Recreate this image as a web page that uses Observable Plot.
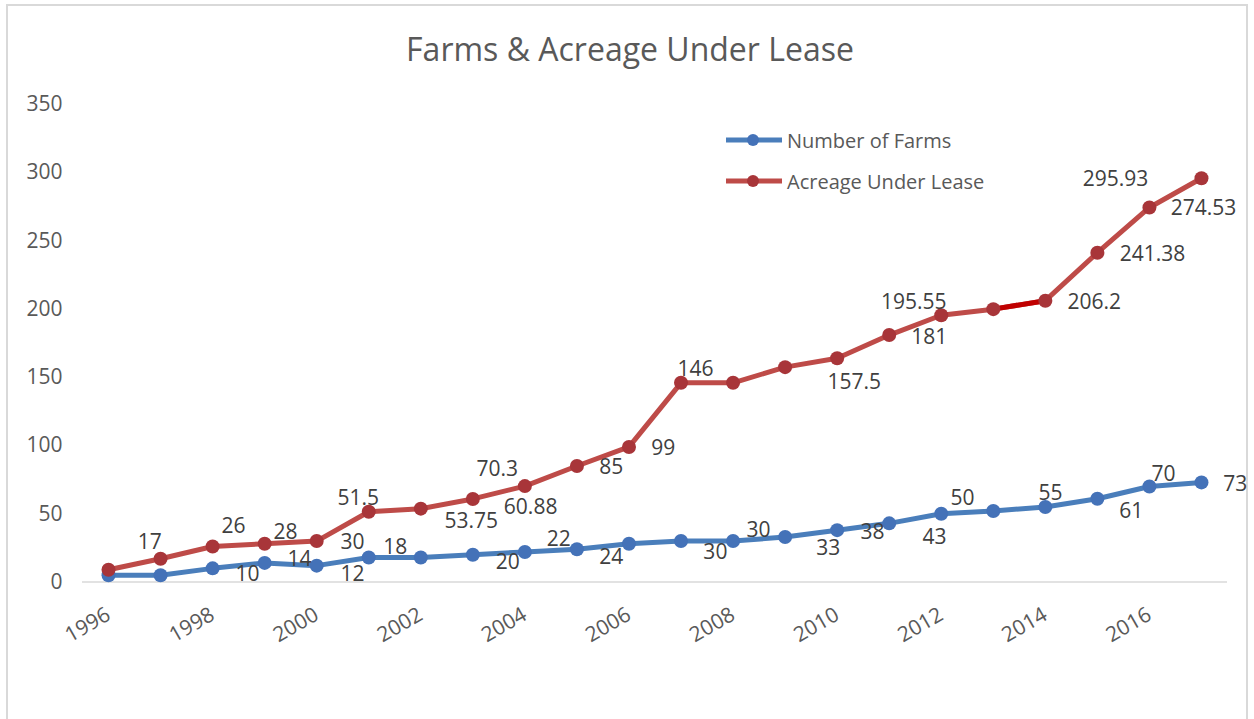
<!DOCTYPE html>
<html>
<head>
<meta charset="utf-8">
<script src="https://cdn.jsdelivr.net/npm/d3@7"></script>
<script src="https://cdn.jsdelivr.net/npm/@observablehq/plot@0.6"></script>
<style>
  body { margin: 0; background: #fff; font-family: "Open Sans", sans-serif; }
  #wrap { position: relative; width: 1254px; height: 719px; overflow: hidden; background: #fff; }
  #frame { position: absolute; left: 6px; top: 4px; width: 1242px; height: 760px; border: 2px solid #d9d9d9; box-sizing: border-box; }
  #title { position: absolute; left: 3px; width: 1254px; top: 27px; text-align: center; font-size: 32px; line-height: 44px; color: #595959; white-space: nowrap; }
  #chart { position: absolute; left: 0; top: 0; }
  .leg { position: absolute; left: 726px; height: 24px; display: flex; align-items: center; font-size: 20px; color: #595959; white-space: nowrap; }
  .leg svg { margin-right: 5px; }
</style>
</head>
<body>
<div id="wrap">
  <div id="frame"></div>
  <div id="title">Farms &amp; Acreage Under Lease</div>
  <div id="chart"></div>
  <div id="legend"></div>
</div>
<script>
// ---- data ----
const years = [1996, 1997, 1998, 1999, 2000, 2001, 2002, 2003, 2004, 2005, 2006,
               2007, 2008, 2009, 2010, 2011, 2012, 2013, 2014, 2015, 2016, 2017];
const farms = [5, 5, 10, 14, 12, 18, 18, 20, 22, 24, 28,
               30, 30, 33, 38, 43, 50, 52, 55, 61, 70, 73];
const acreage = [9, 17, 26, 28, 30, 51.5, 53.75, 60.88, 70.3, 85, 99,
                 146, 146, 157.5, 164, 181, 195.55, 200, 206.2, 241.38, 274.53, 295.93];
const seriesNames = ["Number of Farms", "Acreage Under Lease"];
const xTickYears = [1996, 1998, 2000, 2002, 2004, 2006, 2008, 2010, 2012, 2014, 2016];
const yTicks = [0, 50, 100, 150, 200, 250, 300, 350];

// data labels as they sit in the picture (text, year, value)
const farmLabels = [
  ["10", 1998.67, 5.5], ["14", 1999.67, 16.5], ["12", 2000.69, 5.5], ["18", 2001.51, 25.3],
  ["20", 2003.67, 14.3], ["22", 2004.65, 31.2], ["24", 2005.66, 18.0], ["30", 2007.66, 21.6],
  ["30", 2008.49, 37.8], ["33", 2009.83, 24.6], ["38", 2010.68, 36.3], ["43", 2011.87, 32.6],
  ["50", 2012.41, 61.2], ["55", 2014.10, 64.9], ["61", 2015.65, 51.7], ["70", 2016.27, 78.8],
  ["73", 2017.65, 71.5]
];
const acreageLabels = [
  ["17", 1996.79, 29.0], ["26", 1998.40, 40.7], ["28", 1999.40, 36.3], ["30", 2000.69, 29.0],
  ["51.5", 2000.80, 61.2], ["53.75", 2002.97, 44.4], ["70.3", 2003.47, 82.5], ["60.88", 2004.11, 54.6],
  ["85", 2005.66, 83.9], ["99", 2006.66, 97.9], ["146", 2007.28, 155.8], ["157.5", 2010.33, 146.3],
  ["195.55", 2011.47, 204.9], ["181", 2011.77, 179.2], ["206.2", 2014.94, 204.9], ["241.38", 2016.06, 240.1],
  ["274.53", 2017.04, 273.8], ["295.93", 2015.35, 295.1]
];
// the one darker segment of the acreage line
const darkSegmentYears = [2013, 2014];

// ---- build ----
const blue = "#4a7ebb", blueDot = "#4472b8";
const red = "#be4b48", redDot = "#a83539", darkRed = "#c00000";
const farmRows = years.map((y, i) => ({year: y, value: farms[i]}));
const acreRows = years.map((y, i) => ({year: y, value: acreage[i]}));
const darkRows = acreRows.filter(d => darkSegmentYears.includes(d.year));
const labelRows = [...farmLabels, ...acreageLabels].map(([t, x, v]) => ({text: t, year: x, value: v}));

const chart = Plot.plot({
  width: 1254,
  height: 719,
  marginLeft: 82,
  marginRight: 27,
  marginTop: 104,
  marginBottom: 137.5,
  style: {fontFamily: "'Open Sans', sans-serif", color: "#595959", background: "transparent", overflow: "visible"},
  x: {domain: [1995.5, 2017.5]},
  y: {domain: [0, 350]},
  marks: [
    Plot.ruleY([0], {stroke: "#d9d9d9", strokeWidth: 1.5}),
    Plot.axisY({ticks: yTicks, tickSize: 0, tickPadding: 20, fontSize: 21, label: null, fill: "#595959"}),
    Plot.axisX({ticks: xTickYears, tickFormat: d => String(d), tickRotate: -30, tickSize: 0, tickPadding: 31, fontSize: 21, label: null, fill: "#595959"}),
    Plot.line(farmRows, {x: "year", y: "value", stroke: blue, strokeWidth: 5}),
    Plot.dot(farmRows, {x: "year", y: "value", r: 7, fill: blueDot}),
    Plot.line(acreRows, {x: "year", y: "value", stroke: red, strokeWidth: 5}),
    Plot.line(darkRows, {x: "year", y: "value", stroke: darkRed, strokeWidth: 5}),
    Plot.dot(acreRows, {x: "year", y: "value", r: 7, fill: redDot}),
    Plot.text(labelRows, {x: "year", y: "value", text: "text", fontSize: 21, fill: "#404040", clip: false})
  ]
});
document.getElementById("chart").appendChild(chart);

// legend
const legend = document.getElementById("legend");
const legColors = [[blue, blueDot], [red, redDot]];
const legTops = [128, 169];
seriesNames.forEach((name, i) => {
  const el = document.createElement("div");
  el.className = "leg";
  el.style.top = legTops[i] + "px";
  el.innerHTML = `<svg width="56" height="16"><line x1="0" x2="56" y1="8" y2="8" stroke="${legColors[i][0]}" stroke-width="5"/><circle cx="27" cy="8" r="6" fill="${legColors[i][1]}"/></svg><span>${name}</span>`;
  legend.appendChild(el);
});
</script>
</body>
</html>
